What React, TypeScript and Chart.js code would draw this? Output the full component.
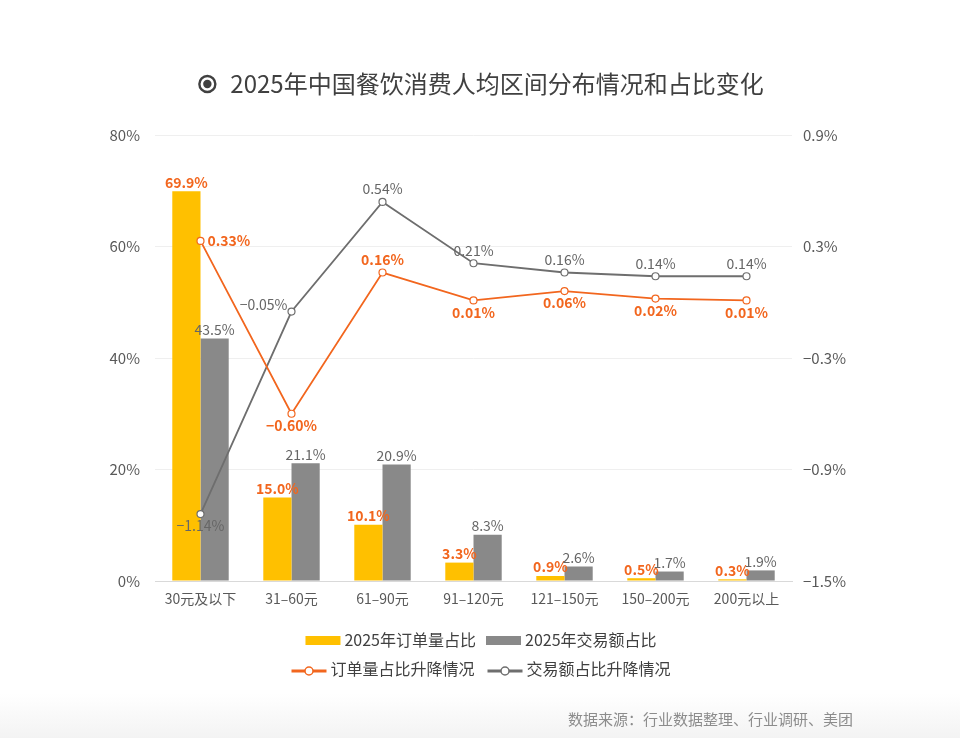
import React, { useEffect, useRef } from "react";
import { Chart, registerables } from "chart.js";

Chart.register(...registerables);

// Spending brackets (per-person spend)
const categories = ["30元及以下", "31–60元", "61–90元", "91–120元", "121–150元", "150–200元", "200元以上"];
// Share of orders, 2025 (%)
const orderShare = [69.9, 15.0, 10.1, 3.3, 0.9, 0.5, 0.3];
// Share of transaction value, 2025 (%)
const amountShare = [43.5, 21.1, 20.9, 8.3, 2.6, 1.7, 1.9];
// Change in order share (percentage points)
const orderChange = [0.33, -0.6, 0.16, 0.01, 0.06, 0.02, 0.01];
// Change in transaction value share (percentage points)
const amountChange = [-1.14, -0.05, 0.54, 0.21, 0.16, 0.14, 0.14];

const leftTicks = [0, 20, 40, 60, 80];
const rightTicks = [-1.5, -0.9, -0.3, 0.3, 0.9];

const titleText = "2025年中国餐饮消费人均区间分布情况和占比变化";
const sourceText = "数据来源：行业数据整理、行业调研、美团";
const legendBars = ["2025年订单量占比", "2025年交易额占比"];
const legendLines = ["订单量占比升降情况", "交易额占比升降情况"];

const FONT = '"Noto Sans CJK SC", "Noto Sans", sans-serif';
const YELLOW = "#FFC000";
const GRAY_BAR = "#898989";
const ORANGE = "#F2661E";
const GRAY_LINE = "#6E6E6E";
const TEXT = "#404040";
const TICK = "#595959";

// where each line label sits relative to its point
const orderLabelPos = ["right", "below", "above", "below", "below", "below", "below"];
const amountLabelPos = ["below", "left", "above", "above", "above", "above", "above"];

const fmtPct = (v: number, digits: number) => {
  const s = Math.abs(v).toFixed(digits) + "%";
  return v < 0 ? "\u2212" + s : s;
};

const decorPlugin = {
  id: "decor",
  beforeDraw(chart: any) {
    const { ctx, width, height } = chart;
    ctx.save();
    const g = ctx.createLinearGradient(0, 0, 0, height);
    g.addColorStop(0, "#ffffff");
    g.addColorStop(0.94, "#ffffff");
    g.addColorStop(1, "#f3f3f3");
    ctx.fillStyle = g;
    ctx.fillRect(0, 0, width, height);
    ctx.restore();
  },
  afterDraw(chart: any) {
    const { ctx } = chart;
    ctx.save();
    // title with ring icon
    ctx.font = `24px ${FONT}`;
    ctx.textBaseline = "middle";
    const tw = ctx.measureText(titleText).width;
    const iconW = 18;
    const gap = 14;
    const total = iconW + gap + tw;
    const startX = 481 - total / 2;
    const cy = 84;
    ctx.strokeStyle = TEXT;
    ctx.fillStyle = TEXT;
    ctx.lineWidth = 2.4;
    ctx.beginPath();
    ctx.arc(startX + iconW / 2, cy, 8, 0, Math.PI * 2);
    ctx.stroke();
    ctx.beginPath();
    ctx.arc(startX + iconW / 2, cy, 4.2, 0, Math.PI * 2);
    ctx.fill();
    ctx.textAlign = "left";
    ctx.fillText(titleText, startX + iconW + gap, cy);

    // legend: bar swatches on the first row, line markers on the second
    ctx.font = `16px ${FONT}`;
    const swW = 35;
    const rows = [
      { y: 640, items: legendBars, colors: [YELLOW, GRAY_BAR], kind: "bar", gap: 10 },
      { y: 669, items: legendLines, colors: [ORANGE, GRAY_LINE], kind: "line", gap: 13 },
    ];
    rows.forEach((row) => {
      const widths = row.items.map((t) => swW + 4 + ctx.measureText(t).width);
      const full = widths[0] + row.gap + widths[1];
      let x = 481 - full / 2;
      row.items.forEach((t, i) => {
        const c = row.colors[i];
        if (row.kind === "bar") {
          ctx.fillStyle = c;
          ctx.fillRect(x, row.y - 4, swW, 9);
        } else {
          ctx.strokeStyle = c;
          ctx.lineWidth = 3;
          ctx.beginPath();
          ctx.moveTo(x, row.y + 2);
          ctx.lineTo(x + swW, row.y + 2);
          ctx.stroke();
          ctx.fillStyle = "#ffffff";
          ctx.lineWidth = 1.5;
          ctx.beginPath();
          ctx.arc(x + swW / 2, row.y + 2, 4, 0, Math.PI * 2);
          ctx.fill();
          ctx.stroke();
        }
        ctx.fillStyle = TEXT;
        ctx.textAlign = "left";
        ctx.fillText(t, x + swW + 4, row.y);
        x += widths[i] + row.gap;
      });
    });

    // source note
    ctx.font = `15px ${FONT}`;
    ctx.fillStyle = "#8C8C8C";
    ctx.textAlign = "right";
    ctx.fillText(sourceText, 853, 719);
    ctx.restore();
  },
};

const labelPlugin = {
  id: "valueLabels",
  afterDatasetsDraw(chart: any) {
    const { ctx } = chart;
    ctx.save();
    ctx.textBaseline = "middle";
    // bar labels
    const barSets = [
      { idx: 0, data: orderShare, color: ORANGE, bold: true },
      { idx: 1, data: amountShare, color: "#666666", bold: false },
    ];
    barSets.forEach((s) => {
      const meta = chart.getDatasetMeta(s.idx);
      ctx.font = `${s.bold ? "bold " : ""}14px ${FONT}`;
      ctx.fillStyle = s.color;
      ctx.textAlign = "center";
      meta.data.forEach((el: any, i: number) => {
        ctx.fillText(s.data[i].toFixed(1) + "%", el.x, el.y - 9);
      });
    });
    // line labels
    const lineSets = [
      { idx: 2, data: orderChange, color: ORANGE, bold: true, pos: orderLabelPos },
      { idx: 3, data: amountChange, color: "#666666", bold: false, pos: amountLabelPos },
    ];
    lineSets.forEach((s) => {
      const meta = chart.getDatasetMeta(s.idx);
      ctx.font = `${s.bold ? "bold " : ""}14px ${FONT}`;
      ctx.fillStyle = s.color;
      meta.data.forEach((el: any, i: number) => {
        const t = fmtPct(s.data[i], 2);
        const p = s.pos[i];
        if (p === "right") {
          ctx.textAlign = "left";
          ctx.fillText(t, el.x + 7, el.y);
        } else if (p === "left") {
          ctx.textAlign = "right";
          ctx.fillText(t, el.x - 4, el.y - 7);
        } else if (p === "above") {
          ctx.textAlign = "center";
          ctx.fillText(t, el.x, el.y - 13);
        } else {
          ctx.textAlign = "center";
          ctx.fillText(t, el.x, el.y + 12);
        }
      });
    });
    ctx.restore();
  },
};

export default function App() {
  const ref = useRef<HTMLCanvasElement | null>(null);

  useEffect(() => {
    if (!ref.current) return;
    const chart = new Chart(ref.current, {
      type: "bar",
      data: {
        labels: categories,
        datasets: [
          {
            type: "bar",
            label: legendBars[0],
            data: orderShare,
            backgroundColor: YELLOW,
            yAxisID: "y",
            order: 2,
            categoryPercentage: 0.62,
            barPercentage: 1,
          },
          {
            type: "bar",
            label: legendBars[1],
            data: amountShare,
            backgroundColor: GRAY_BAR,
            yAxisID: "y",
            order: 2,
            categoryPercentage: 0.62,
            barPercentage: 1,
          },
          {
            type: "line",
            label: legendLines[0],
            data: orderChange,
            borderColor: ORANGE,
            borderWidth: 1.8,
            pointRadius: 3.5,
            pointBackgroundColor: "#ffffff",
            pointBorderColor: ORANGE,
            pointBorderWidth: 1.2,
            yAxisID: "y1",
            order: 0,
            tension: 0,
          },
          {
            type: "line",
            label: legendLines[1],
            data: amountChange,
            borderColor: GRAY_LINE,
            borderWidth: 1.8,
            pointRadius: 3.5,
            pointBackgroundColor: "#ffffff",
            pointBorderColor: GRAY_LINE,
            pointBorderWidth: 1.2,
            yAxisID: "y1",
            order: 0,
            tension: 0,
          },
        ],
      },
      options: {
        responsive: false,
        animation: false,
        devicePixelRatio: 1,
        layout: { padding: { top: 135, left: 0, right: 0, bottom: 0 } },
        plugins: {
          legend: { display: false },
          title: { display: false },
          tooltip: { enabled: false },
        },
        scales: {
          x: {
            grid: { display: false, drawTicks: false },
            border: { display: true, color: "#D9D9D9", width: 1 },
            ticks: { color: TICK, font: { family: FONT, size: 14 }, padding: 9, maxRotation: 0, autoSkip: false },
            afterFit: (s: any) => {
              s.height = 738 - 581;
            },
          },
          y: {
            position: "left",
            min: 0,
            max: 80,
            afterBuildTicks: (s: any) => {
              s.ticks = leftTicks.map((v) => ({ value: v }));
            },
            grid: { color: "#EFEFEF", drawTicks: false },
            border: { display: false },
            ticks: {
              color: TICK,
              font: { family: FONT, size: 15 },
              padding: 15,
              callback: (v: any) => v + "%",
            },
            afterFit: (s: any) => {
              s.width = 155;
            },
          },
          y1: {
            position: "right",
            min: -1.5,
            max: 0.9,
            afterBuildTicks: (s: any) => {
              s.ticks = rightTicks.map((v) => ({ value: v }));
            },
            grid: { display: false, drawTicks: false },
            border: { display: false },
            ticks: {
              color: TICK,
              font: { family: FONT, size: 15 },
              padding: 11,
              callback: (v: any) => fmtPct(Math.round(Number(v) * 10) / 10, 1),
            },
            afterFit: (s: any) => {
              s.width = 960 - 792;
            },
          },
        },
      },
      plugins: [decorPlugin, labelPlugin],
    } as any);
    return () => chart.destroy();
  }, []);

  return (
    <div style={{ position: "fixed", left: 0, top: 0, width: 960, height: 738, background: "#ffffff" }}>
      <canvas ref={ref} width={960} height={738} style={{ display: "block", width: 960, height: 738 }} />
    </div>
  );
}
